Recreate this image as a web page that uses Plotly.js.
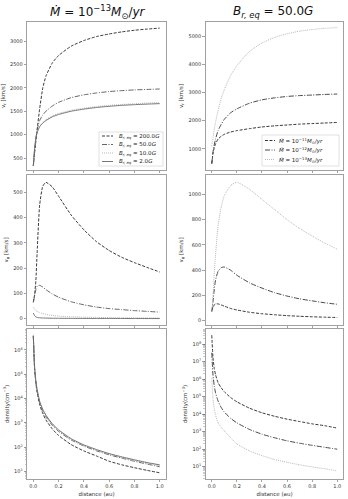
<!DOCTYPE html>
<html>
<head>
<meta charset="utf-8">
<script src="https://cdn.plot.ly/plotly-3.0.1.min.js"></script>
<style>
html, body { margin: 0; padding: 0; background: #fff; }
#plot { width: 348px; height: 499px; }
</style>
</head>
<body>
<div id="plot"></div>
<script>
// distance from the surface [au]
const dist = [0, 0.01, 0.02, 0.03, 0.05, 0.075, 0.1, 0.15, 0.2, 0.3, 0.4, 0.5, 0.6, 0.7, 0.8, 0.9, 1.0];

const bLabels = ['200.0', '50.0', '10.0', '2.0'];
const mdotExps = ['11', '12', '13'];

// left column: Mdot = 1e-13 Msun/yr, different B_r,eq
const vrB200 = [330, 600, 850, 1100, 1550, 2000, 2250, 2530, 2690, 2890, 3010, 3095, 3150, 3195, 3230, 3255, 3275];
const vrB50 = [330, 650, 900, 1100, 1300, 1420, 1500, 1610, 1690, 1790, 1850, 1890, 1920, 1940, 1955, 1965, 1975];
const vrB10 = [330, 700, 920, 1050, 1180, 1260, 1320, 1400, 1450, 1520, 1565, 1600, 1625, 1645, 1660, 1675, 1690];
const vrB2 = [330, 700, 920, 1040, 1170, 1245, 1300, 1380, 1430, 1500, 1545, 1580, 1605, 1625, 1640, 1652, 1662];

const vpB200 = [65, 95, 150, 260, 450, 525, 540, 522, 485, 410, 352, 305, 270, 243, 222, 203, 185];
const vpB50 = [65, 90, 115, 128, 132, 125, 115, 98, 85, 67, 55, 46, 40, 36, 32, 29, 26];
const vpB10 = [45, 38, 33, 29, 24, 20, 17, 13, 10, 7.5, 6, 5, 4.3, 3.8, 3.4, 3.1, 2.8];
const vpB2 = [22, 12, 7, 5, 3.5, 2.8, 2.3, 1.8, 1.5, 1.2, 1, 0.9, 0.8, 0.7, 0.65, 0.6, 0.55];

const nB200 = [3.8e6, 1.78e5, 4.5e4, 1.8e4, 5600, 2400, 1300, 560, 300, 126, 69, 43, 26, 18.6, 14.1, 11, 8.7];
const nB50 = [3.8e6, 1.9e5, 5.0e4, 2.1e4, 6800, 3000, 1750, 780, 440, 195, 110, 70, 48, 35, 26, 20, 15.5];
const nB10 = [3.8e6, 1.9e5, 5.2e4, 2.3e4, 7500, 3400, 2000, 880, 490, 210, 118, 76, 52, 38, 28.5, 22, 17.5];
const nB2 = [3.8e6, 1.9e5, 5.2e4, 2.3e4, 7700, 3500, 2050, 910, 510, 220, 123, 79, 54, 39.5, 30, 23, 18.5];

// right column: B_r,eq = 50 G, different Mdot
const vrM11 = [480, 850, 1050, 1180, 1350, 1450, 1520, 1600, 1650, 1720, 1780, 1820, 1850, 1880, 1900, 1920, 1940];
const vrM12 = [480, 900, 1150, 1350, 1650, 1870, 2050, 2280, 2420, 2620, 2740, 2810, 2860, 2890, 2910, 2930, 2945];
const vrM13 = [1100, 1400, 1700, 1950, 2350, 2800, 3100, 3600, 3950, 4450, 4750, 4950, 5080, 5170, 5230, 5270, 5300];

const vpM11 = [80, 105, 125, 133, 133, 125, 115, 97, 85, 67, 55, 47, 40, 35, 31, 28, 25];
const vpM12 = [70, 150, 250, 320, 390, 420, 425, 400, 360, 300, 258, 222, 195, 173, 157, 142, 130];
const vpM13 = [70, 200, 380, 520, 750, 900, 990, 1070, 1095, 1040, 960, 880, 800, 730, 670, 615, 565];

const nM11 = [3.2e8, 1.6e7, 4.0e6, 1.8e6, 6.3e5, 3.2e5, 1.9e5, 8.9e4, 5.1e4, 2.2e4, 1.2e4, 7.6e3, 5.2e3, 3.8e3, 2.8e3, 2.2e3, 1.6e3];
const nM12 = [3.2e7, 1.6e6, 4.0e5, 1.66e5, 5.6e4, 2.4e4, 1.32e4, 5.8e3, 3.2e3, 1.35e3, 720, 450, 300, 220, 166, 129, 100];
const nM13 = [1.1e6, 7.1e4, 2.0e4, 8.9e3, 3.2e3, 1.8e3, 1.12e3, 450, 200, 80, 43, 26, 17.8, 12.9, 9.8, 7.7, 5.8];

const FONT = 'DejaVu Sans, sans-serif';
const DASH = '3px,1.5px';
const DASHDOT = '5px,1.5px,1px,1.5px';
const DOT = '1px,1px';

const leftStyles = [
    {color: '#222', dash: DASH},
    {color: '#555', dash: DASHDOT},
    {color: '#b0b0b0', dash: DOT},
    {color: '#666', dash: 'solid'}
];
const rightStyles = [
    {color: '#222', dash: DASH},
    {color: '#333', dash: DASHDOT},
    {color: '#b0b0b0', dash: DOT}
];

const axId = k => (k === 1 ? '' : String(k));

function line(y, k, st) {
    return {
        x: dist, y: y, xaxis: 'x' + axId(k), yaxis: 'y' + axId(k), mode: 'lines',
        line: {color: st.color, dash: st.dash, width: 0.9, shape: 'spline', smoothing: 0.5},
        showlegend: false, hoverinfo: 'skip'
    };
}

const leftSets = [[vrB200, vrB50, vrB10, vrB2], [vpB200, vpB50, vpB10, vpB2], [nB200, nB50, nB10, nB2]];
const rightSets = [[vrM11, vrM12, vrM13], [vpM11, vpM12, vpM13], [nM11, nM12, nM13]];

let data = [];
leftSets.forEach((set, row) => {
    set.forEach((y, i) => data.push(line(y, 2 * row + 1, leftStyles[i])));
});
rightSets.forEach((set, row) => {
    set.forEach((y, i) => data.push(line(y, 2 * row + 2, rightStyles[i])));
});

const W = 348, H = 499;
const px = v => v / W;
const py = v => 1 - v / H;

const colX = [[px(27), px(166)], [px(205.5), px(343.5)]];
const rowY = [[py(170), py(22)], [py(325), py(175)], [py(479), py(329)]];

const tickFont = {size: 5, color: '#333', family: FONT};
const titleFont = {size: 5.5, color: '#333', family: FONT};

function xAx(col, row) {
    const k = 2 * row + col + 1;
    return {
        anchor: 'y' + axId(k),
        domain: colX[col], range: [-0.05, 1.05], tick0: 0, dtick: 0.2,
        showticklabels: row === 2, tickformat: '.1f',
        showline: true, mirror: true, linecolor: '#888', linewidth: 0.8,
        ticks: 'outside', ticklen: 2.5, tickwidth: 0.6, tickcolor: '#666',
        showgrid: false, zeroline: false, tickfont: tickFont,
        title: row === 2 ? {text: 'distance (au)', font: titleFont, standoff: 3} : {text: ''}
    };
}

const logVals = [10, 100, 1e3, 1e4, 1e5, 1e6, 1e7, 1e8];
const logText = ['1', '2', '3', '4', '5', '6', '7', '8'].map(p => '10<sup>' + p + '</sup>');

function yAx(col, row, range, dtick, title, isLog) {
    const k = 2 * row + col + 1;
    const ax = {
        anchor: 'x' + axId(k),
        domain: rowY[row], range: range,
        showline: true, mirror: true, linecolor: '#888', linewidth: 0.8,
        ticks: 'outside', ticklen: 2.5, tickwidth: 0.6, tickcolor: '#666',
        showgrid: false, zeroline: false, tickfont: tickFont,
        title: {text: title, font: titleFont, standoff: 4}
    };
    if (isLog) {
        ax.type = 'log';
        ax.tickmode = 'array';
        ax.tickvals = logVals;
        ax.ticktext = logText;
        ax.minor = {tickmode: 'linear', dtick: 'D1', ticks: 'outside', ticklen: 1.5, tickwidth: 0.4, tickcolor: '#777'};
    } else {
        ax.tick0 = 0;
        ax.dtick = dtick;
    }
    return ax;
}

const vrTitle = 'v<sub>r</sub> [km/s]';
const vpTitle = 'v<sub>φ</sub> [km/s]';
const nTitle = 'density(cm<sup>−3</sup>)';

const layout = {
    width: W, height: H,
    margin: {l: 0, r: 0, t: 0, b: 0},
    paper_bgcolor: '#fff', plot_bgcolor: '#fff',
    font: {family: FONT},
    showlegend: false,
    xaxis: xAx(0, 0), yaxis: yAx(0, 0, [244, 3406], 500, vrTitle, false),
    xaxis2: xAx(1, 0), yaxis2: yAx(1, 0, [256, 5496], 1000, vrTitle, false),
    xaxis3: xAx(0, 1), yaxis3: yAx(0, 1, [-25, 569], 100, vpTitle, false),
    xaxis4: xAx(1, 1), yaxis4: yAx(1, 1, [-34, 1153], 200, vpTitle, false),
    xaxis5: xAx(0, 2), yaxis5: yAx(0, 2, [0.685, 6.86], null, nTitle, true),
    xaxis6: xAx(1, 2), yaxis6: yAx(1, 2, [0.30, 8.86], null, nTitle, true),
    shapes: [],
    annotations: [
        {text: '<i>Ṁ</i> = 10<sup>−13</sup><i>M</i><sub>⊙</sub>/<i>yr</i>', x: px(98), y: py(12),
         xanchor: 'center', yanchor: 'middle',
         xref: 'paper', yref: 'paper', showarrow: false, font: {size: 12, family: FONT, color: '#111'}},
        {text: '<i>B</i><sub><i>r, eq</i></sub> = 50.0<i>G</i>', x: px(273), y: py(12),
         xanchor: 'center', yanchor: 'middle',
         xref: 'paper', yref: 'paper', showarrow: false, font: {size: 12, family: FONT, color: '#111'}}
    ]
};

// hand-made legends (plotly's own legend rows are too tall for this size)
function addLegend(box, entries, styles, lineX, textX, rowYs) {
    layout.shapes.push({type: 'rect', xref: 'paper', yref: 'paper', layer: 'above',
        x0: px(box[0]), x1: px(box[1]), y0: py(box[3]), y1: py(box[2]),
        fillcolor: 'rgba(255,255,255,0.85)', line: {color: '#ccc', width: 0.6}});
    entries.forEach((txt, i) => {
        layout.shapes.push({type: 'line', xref: 'paper', yref: 'paper', layer: 'above',
            x0: px(lineX[0]), x1: px(lineX[1]), y0: py(rowYs[i]), y1: py(rowYs[i]),
            line: {color: styles[i].color, dash: styles[i].dash, width: 0.9}});
        layout.annotations.push({text: txt, x: px(textX), y: py(rowYs[i]),
            xanchor: 'left', yanchor: 'middle',
            xref: 'paper', yref: 'paper', showarrow: false,
            font: {size: 5.5, family: FONT, color: '#222'}});
    });
}

addLegend([99, 163, 132, 166],
    bLabels.map(b => '<i>B</i><sub><i>r, eq</i></sub> = ' + b + '<i>G</i>'),
    leftStyles, [102, 113], 117, [136, 144.5, 153, 161.5]);
addLegend([262, 339, 135, 166],
    mdotExps.map(e => '<i>Ṁ</i> = 10<sup>−' + e + '</sup><i>M</i><sub>⊙</sub>/<i>yr</i>'),
    rightStyles, [265, 275], 277, [140.5, 150, 159.5]);

Plotly.newPlot('plot', data, layout, {displayModeBar: false, staticPlot: true});
</script>
</body>
</html>
